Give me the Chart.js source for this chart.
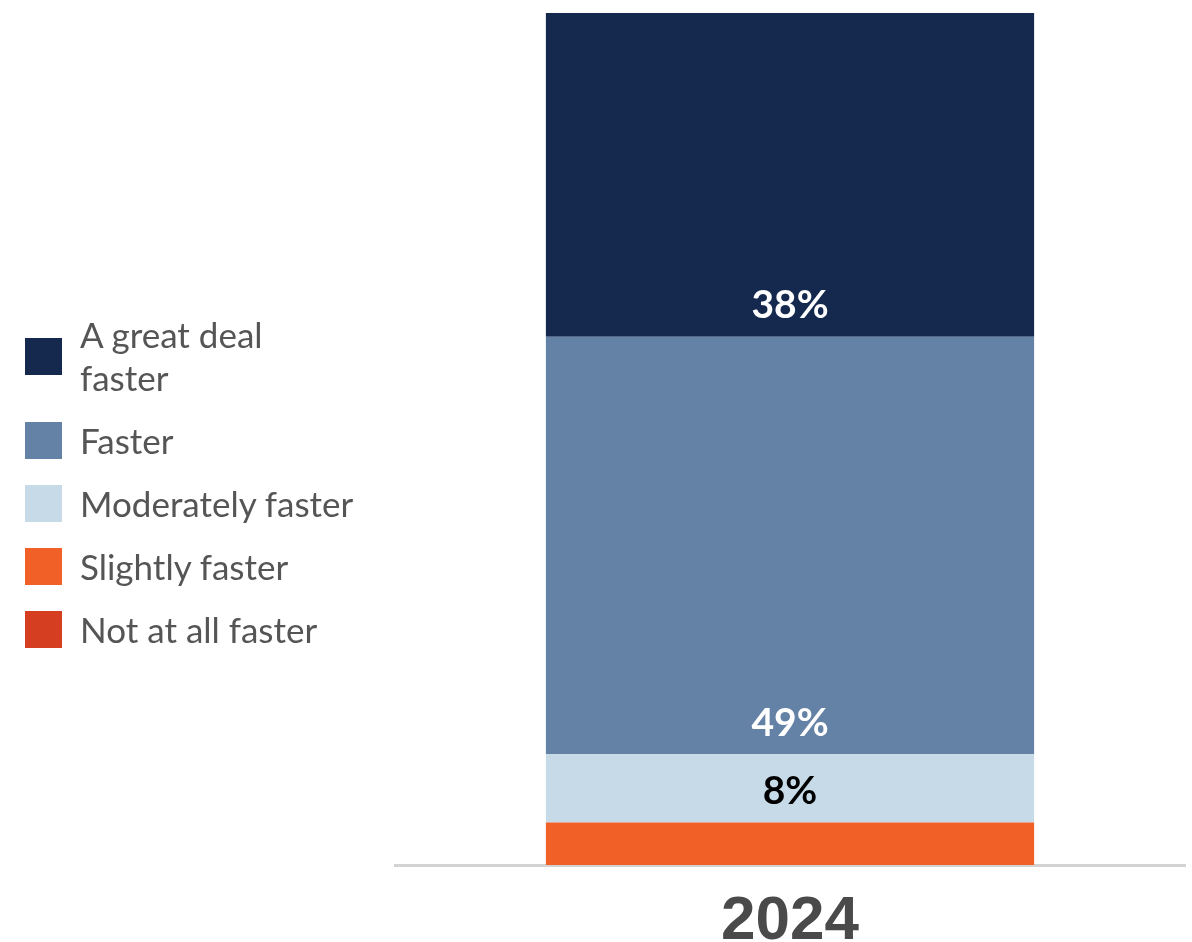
<!DOCTYPE html>
<html>
<head>
<meta charset="utf-8">
<script src="https://cdn.jsdelivr.net/npm/chart.js@4"></script>
<style>
  html, body { margin: 0; padding: 0; background: #fff; }
  #wrap { position: relative; width: 1192px; height: 942px; }
  #legend { position: absolute; left: 25px; top: 313px; font-family: Lato, sans-serif; font-size: 35px; color: #555; }
  .item { display: flex; align-items: center; margin-bottom: 20px; }
  .box { width: 37px; height: 37px; margin-right: 18px; flex: none; }
  .txt { line-height: 43px; white-space: pre-line; }
</style>
</head>
<body>
<div id="wrap">
  <canvas id="chart" width="1192" height="942"></canvas>
  <div id="legend"></div>
</div>
<script>
// survey answers, stacked bottom -> top is reversed below
const years = ['2024'];
const answers = ['A great deal\nfaster', 'Faster', 'Moderately faster', 'Slightly faster', 'Not at all faster'];
const shares = [38, 49, 8, 5, 0];
const colors = ['#15294f', '#6482a6', '#c7dae8', '#f16026', '#d63e21'];
const labelColors = ['#fff', '#fff', '#000', '#fff', '#fff'];

// bottom of the stack is the last answer
const order = [4, 3, 2, 1, 0];
const datasets = order.map(i => ({
  label: answers[i],
  data: [shares[i]],
  backgroundColor: colors[i],
  labelColor: labelColors[i],
  borderWidth: 0,
  barPercentage: 0.618,
  categoryPercentage: 1
}));

// value labels sit a fixed distance above the base of each segment
const segmentLabels = {
  id: 'segmentLabels',
  afterDatasetsDraw(chart) {
    const ctx = chart.ctx;
    ctx.save();
    ctx.font = 'bold 39px Lato, sans-serif';
    ctx.textAlign = 'center';
    ctx.textBaseline = 'middle';
    chart.data.datasets.forEach((ds, i) => {
      const v = ds.data[0];
      if (v < 6) return;
      const bar = chart.getDatasetMeta(i).data[0];
      ctx.fillStyle = ds.labelColor;
      ctx.fillText(v + '%', bar.x, bar.base - 31);
    });
    ctx.restore();
  }
};

new Chart(document.getElementById('chart'), {
  type: 'bar',
  data: { labels: years, datasets: datasets },
  options: {
    responsive: false,
    animation: false,
    layout: { padding: { left: 395, right: 7, top: 13, bottom: 0 } },
    plugins: { legend: { display: false }, tooltip: { enabled: false } },
    scales: {
      x: {
        stacked: true,
        grid: { display: false },
        border: { display: true, color: '#d3d3d3', width: 3 },
        ticks: {
          color: '#4a4a4a',
          padding: 12,
          font: { family: 'Liberation Sans, Arial, sans-serif', size: 62, weight: 'bold' }
        },
        afterFit(scale) { scale.height = 77; }
      },
      y: { stacked: true, display: false, min: 0, max: 100 }
    }
  },
  plugins: [segmentLabels]
});

// legend list in the original answer order
const legend = document.getElementById('legend');
answers.forEach((a, i) => {
  const item = document.createElement('div');
  item.className = 'item';
  item.innerHTML = '<div class="box" style="background:' + colors[i] + '"></div><div class="txt"></div>';
  item.querySelector('.txt').textContent = a;
  legend.appendChild(item);
});
</script>
</body>
</html>
